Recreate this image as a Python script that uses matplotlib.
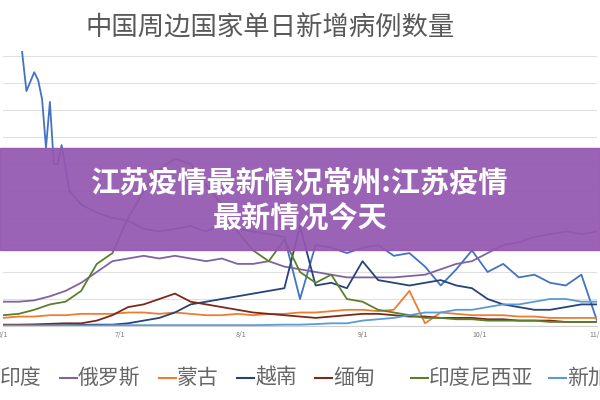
import numpy as np
import matplotlib.pyplot as plt
from matplotlib.patches import Rectangle
from matplotlib.lines import Line2D

plt.rcParams['font.family'] = ['Noto Sans CJK SC', 'DejaVu Sans']

# day index from 6/1, one value every 4 days (units = grid steps)
days = list(range(0, 153, 4))
tick_days = [0, 30, 61, 92, 122, 152]
tick_labels = ['6/1', '7/1', '8/1', '9/1', '10/1', '11/1']

india_days = [0, 4, 5, 6, 8, 9, 10, 11, 12, 13, 14, 15, 17, 20, 24, 28, 32, 36, 40, 44, 48,
              52, 56, 60, 64, 68, 72, 76, 80, 84, 88, 92, 96, 100, 104, 108, 112, 116, 120,
              124, 128, 132, 136, 140, 144, 148, 152]
india = [13, 11.5, 10.0, 8.7, 9.4, 9.1, 8.4, 6.6, 8.3, 6.0, 6.0, 6.7, 5.0, 4.5, 4.2, 4.0,
         3.9, 3.6, 3.5, 3.6, 3.7, 3.5, 3.8, 3.6, 3.5, 3.4, 3.3, 1.0, 3.0, 2.9, 2.7, 2.9,
         3.0, 2.6, 2.7, 2.2, 1.5, 2.1, 2.8, 2.0, 2.3, 1.8, 1.9, 1.6, 1.5, 1.9, 0.2]
russia = [0.9, 0.9, 0.95, 1.1, 1.3, 1.6, 2.0, 2.4, 2.5, 2.6, 2.5, 2.6, 2.5, 2.4, 2.5, 2.3,
          2.3, 2.4, 2.2, 2.1, 2.0, 1.9, 1.8, 1.8, 1.8, 1.8, 1.85, 1.9, 2.1, 2.3, 2.4, 2.7,
          3.0, 3.1, 3.3, 3.4, 3.5, 3.4, 3.5]
mongolia = [0.3, 0.35, 0.35, 0.4, 0.4, 0.45, 0.45, 0.45, 0.5, 0.5, 0.45, 0.5, 0.45, 0.4, 0.4, 0.45,
            0.4, 0.45, 0.45, 0.5, 0.5, 0.55, 0.6, 0.6, 0.55, 0.6, 1.3, 0.1, 0.5, 0.45, 0.4, 0.4,
            0.4, 0.35, 0.35, 0.3, 0.3, 0.3, 0.3]
vietnam = [0.02, 0.02, 0.03, 0.03, 0.03, 0.04, 0.05, 0.05, 0.1, 0.2, 0.3, 0.5, 0.8, 0.9, 1.0, 1.1,
           1.2, 1.3, 1.4, 3.7, 1.5, 1.6, 1.4, 2.4, 1.7, 1.6, 1.5, 1.6, 1.7, 1.5, 1.4, 1.0,
           0.8, 0.7, 0.6, 0.6, 0.7, 0.8, 0.8]
myanmar = [0.05, 0.05, 0.06, 0.08, 0.1, 0.1, 0.2, 0.4, 0.7, 0.8, 1.0, 1.2, 0.9, 0.8, 0.7, 0.6,
           0.5, 0.45, 0.4, 0.35, 0.3, 0.35, 0.4, 0.45, 0.45, 0.4, 0.35, 0.35, 0.3, 0.3, 0.3, 0.25,
           0.25, 0.2, 0.2, 0.2, 0.15, 0.15, 0.15]
indonesia = [0.4, 0.45, 0.6, 0.8, 0.9, 1.3, 2.3, 2.7, 4.0, 5.0, 5.8, 6.2, 6.0, 5.2, 4.5, 3.5,
             2.8, 2.4, 3.2, 2.0, 1.6, 1.9, 1.0, 0.9, 0.6, 0.5, 0.4, 0.3, 0.3, 0.25, 0.25, 0.2,
             0.2, 0.2, 0.2, 0.15, 0.15, 0.15, 0.15]
singapore = [0.02, 0.02, 0.02, 0.02, 0.02, 0.02, 0.02, 0.03, 0.03, 0.03, 0.03, 0.03, 0.03, 0.03, 0.03, 0.03,
             0.03, 0.04, 0.05, 0.05, 0.07, 0.1, 0.1, 0.2, 0.25, 0.3, 0.4, 0.5, 0.5, 0.6, 0.6, 0.7,
             0.8, 0.8, 0.9, 1.0, 1.0, 0.9, 0.9]

series = [('印度', india_days, india, '#4472C4'), ('俄罗斯', days, russia, '#8064A2'),
          ('蒙古', days, mongolia, '#ED7D31'), ('越南', days, vietnam, '#264478'),
          ('缅甸', days, myanmar, '#7B2A1A'), ('印度尼西亚', days, indonesia, '#5E7F2A'),
          ('新加坡', days, singapore, '#5B9BD5')]

fig = plt.figure(figsize=(6, 4), dpi=100)
ax = fig.add_axes([0.005, 0.185, 0.99, 0.6885])
for name, d, vals, col in series:
    ax.plot(d, vals, color=col, lw=1.3)
ax.set_xlim(0, 152)
ax.set_ylim(0, 10.2)
ax.set_yticks(range(0, 11))
ax.set_yticklabels([])
ax.tick_params(length=0)
ax.set_xticks(tick_days)
ax.set_xticklabels(tick_labels, fontsize=5, color='#777777')
ax.grid(axis='y', color='#e0e0e0', lw=0.8)
for s in ['top', 'right', 'left']:
    ax.spines[s].set_visible(False)
ax.spines['bottom'].set_color('#d0d0d0')

fig.text(0.45, 0.93, '中国周边国家单日新增病例数量', ha='center', va='center', fontsize=19, color='#595959')

# hand-placed legend, wider than the figure like the reference
leg_x = [-0.03, 0.1, 0.265, 0.395, 0.525, 0.685, 0.915]
for (name, d, vals, col), x0 in zip(series, leg_x):
    fig.add_artist(Line2D([x0, x0 + 0.028], [0.055, 0.055], color=col, lw=1.5,
                          transform=fig.transFigure))
    fig.text(x0 + 0.03, 0.055, name, ha='left', va='center', fontsize=15, color='#666666')

fig.patches.append(Rectangle((0, 0.375), 1, 0.255, transform=fig.transFigure,
                             color='#9457B0', alpha=0.93, zorder=5))
fig.text(0.5, 0.543, '江苏疫情最新情况常州:江苏疫情', ha='center', va='center', fontsize=21,
         color='white', fontweight='bold', zorder=6)
fig.text(0.5, 0.455, '最新情况今天', ha='center', va='center', fontsize=21,
         color='white', fontweight='bold', zorder=6)

fig.savefig('out.png', dpi=100)
